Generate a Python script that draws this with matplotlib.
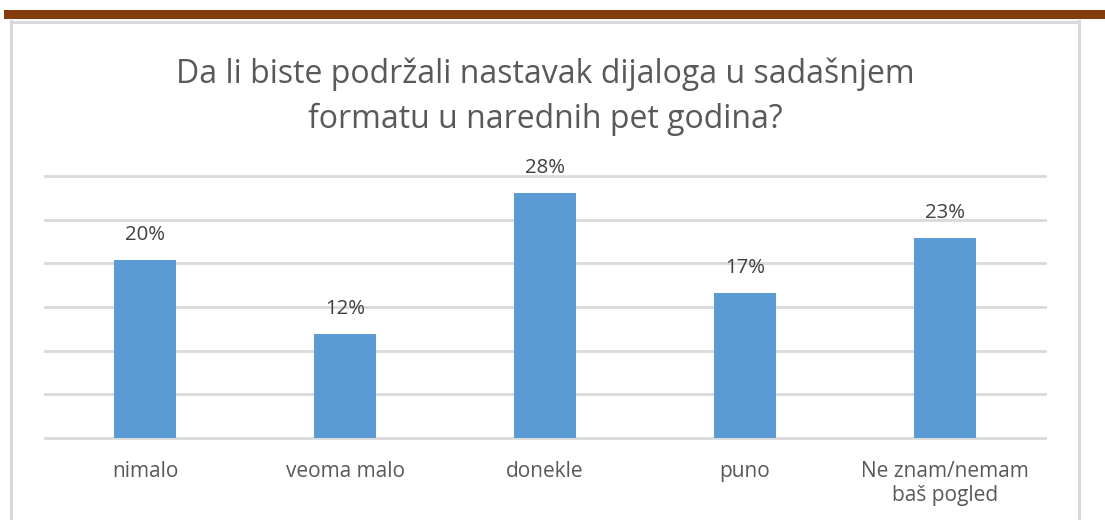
import matplotlib
matplotlib.use("Agg")
import matplotlib.pyplot as plt
from matplotlib.patches import Rectangle
from matplotlib.lines import Line2D

categories = ["nimalo", "veoma malo", "donekle", "puno", "Ne znam/nemam\nbaš pogled"]
values = [20.4, 11.9, 28.1, 16.6, 22.9]
title_lines = ["Da li biste podržali nastavak dijaloga u sadašnjem", "formatu u narednih pet godina?"]

W, H = 1105, 520
fig = plt.figure(figsize=(W / 100, H / 100), dpi=100)
plt.rcParams['font.family'] = ['Open Sans', 'DejaVu Sans']

# brown top band and grey frame
fig.patches.append(Rectangle((4 / W, 1 - 19 / H), (W - 4) / W, 9 / H, transform=fig.transFigure,
                             facecolor="#843C0C", edgecolor="none", zorder=0))
fig.lines.append(Line2D([11 / W, 11 / W], [0, 1 - 21 / H], transform=fig.transFigure, color="#D9D9D9", lw=2.2))
fig.lines.append(Line2D([1079 / W, 1079 / W], [0, 1 - 21 / H], transform=fig.transFigure, color="#D9D9D9", lw=2.2))
fig.lines.append(Line2D([11 / W, 1079 / W], [1 - 21.5 / H, 1 - 21.5 / H], transform=fig.transFigure, color="#D9D9D9", lw=2.2))

ax = fig.add_axes([45 / W, 1 - 438 / H, 1000 / W, (438 - 176) / H])
x = list(range(len(categories)))
ax.bar(x, values, width=0.31, color="#5B9BD5", zorder=3)
ax.set_xlim(-0.5, len(categories) - 0.5)
ax.set_ylim(0, 30)
ax.set_yticks([0, 5, 10, 15, 20, 25, 30])
ax.yaxis.grid(True, color="#D9D9D9", lw=2.0)
for gl in ax.get_ygridlines():
    gl.set_clip_on(False)
ax.set_axisbelow(True)
ax.tick_params(axis="y", left=False, labelleft=False)
ax.tick_params(axis="x", bottom=False, pad=13, labelsize=15, labelcolor="#595959")
ax.set_xticks(x)
ax.set_xticklabels(categories, linespacing=1.2)
for s in ax.spines.values():
    s.set_visible(False)

for xi, v in zip(x, values):
    ax.annotate(f"{v:.0f}%", (xi, v), xytext=(0, 10.5), textcoords="offset points",
                ha="center", va="bottom", fontsize=14.7, color="#404040")

for i, line in enumerate(title_lines):
    fig.text(545 / W, 1 - (83 + 45 * i) / H, line, ha="center", va="baseline", fontsize=23,
             color="#595959")

fig.savefig("out.png", dpi=100)
